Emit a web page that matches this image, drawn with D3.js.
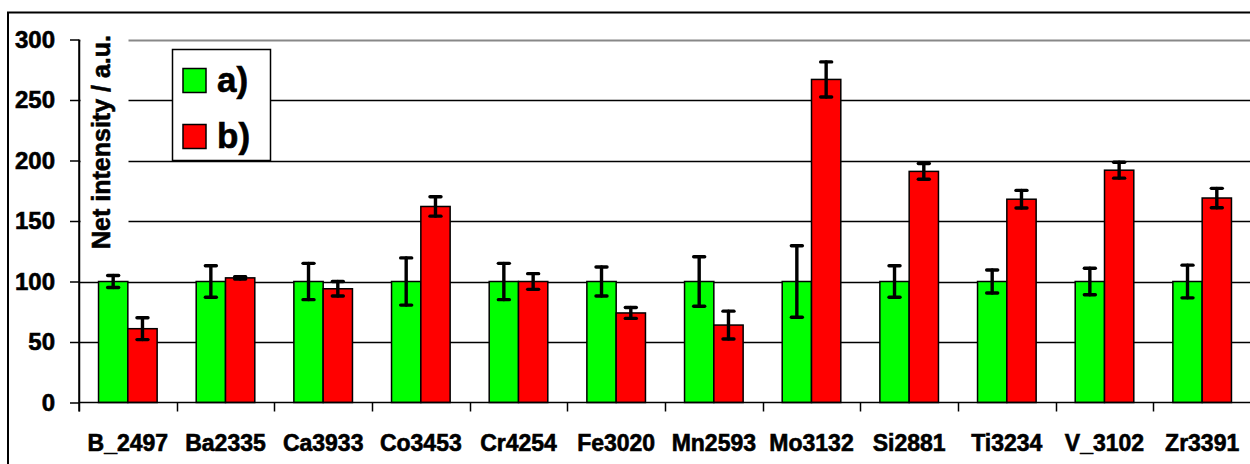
<!DOCTYPE html>
<html>
<head>
<meta charset="utf-8">
<script src="https://cdn.jsdelivr.net/npm/d3@7"></script>
<style>
  html, body { margin: 0; padding: 0; background: #fff; }
  svg { display: block; }
  text { font-family: "Liberation Sans", Arial, sans-serif; font-weight: bold; fill: #000;
         stroke: #000; stroke-width: 0.6px; }
</style>
</head>
<body>
<svg id="chart" width="1250" height="464"></svg>
<script>
// Emission lines measured
const categories = ["B_2497", "Ba2335", "Ca3933", "Co3453", "Cr4254", "Fe3020",
                    "Mn2593", "Mo3132", "Si2881", "Ti3234", "V_3102", "Zr3391"];
// Series a) (reference, normalised to 100) and series b)
const seriesNames = ["a)", "b)"];
const valuesA = [100, 100, 100, 100, 100, 100, 100, 100, 100, 100, 100, 100];
const errorsA = [5, 13, 15, 19.5, 15, 12, 20.5, 29.5, 13, 9.5, 11, 13.5];
const valuesB = [61, 103, 94, 162, 100, 74, 64, 267, 191, 168, 192, 169];
const errorsB = [9, 1, 6, 8, 6.5, 4.5, 11.5, 14.5, 6.5, 7.3, 6.6, 8];
const yTicks = [0, 50, 100, 150, 200, 250, 300];
const colors = ["#00ff00", "#ff0000"];

const svg = d3.select("#chart");

// Outer chart frame (continues past the right and bottom edge)
svg.append("rect")
  .attr("x", 8).attr("y", 12.5)
  .attr("width", 1400).attr("height", 600)
  .attr("fill", "#fff").attr("stroke", "#000").attr("stroke-width", 2);

const plot = { left: 79, right: 1251, top: 39.5, bottom: 402.5 };

const x0 = d3.scaleBand().domain(categories).range([plot.left, plot.right]).paddingInner(0).paddingOuter(0);
const bw = x0.bandwidth();
const x1 = d3.scaleBand().domain(seriesNames).range([bw * 0.2, bw * 0.8]).padding(0);
const y = d3.scaleLinear().domain([0, 300]).range([plot.bottom, plot.top]);

// Horizontal gridlines
svg.append("g").selectAll("line")
  .data(yTicks.filter(t => t > 0))
  .join("line")
  .attr("x1", plot.left).attr("x2", plot.right)
  .attr("y1", d => Math.round(y(d)) + 0.5).attr("y2", d => Math.round(y(d)) + 0.5)
  .attr("stroke", d => d === 300 ? "#888" : "#000")
  .attr("stroke-width", d => d === 300 ? 2 : 1.4);

// Axis-title backdrop hides the gridlines behind it
svg.append("rect")
  .attr("x", plot.left + 1.5).attr("y", 28)
  .attr("width", 48).attr("height", 228)
  .attr("fill", "#fff");

// Bars
const rows = categories.map((c, i) => ({
  cat: c,
  items: [
    { s: seriesNames[0], v: valuesA[i], e: errorsA[i], c: colors[0] },
    { s: seriesNames[1], v: valuesB[i], e: errorsB[i], c: colors[1] }
  ]
}));

const groups = svg.append("g").selectAll("g")
  .data(rows).join("g")
  .attr("transform", d => `translate(${x0(d.cat)},0)`);

groups.selectAll("rect")
  .data(d => d.items).join("rect")
  .attr("x", d => x1(d.s))
  .attr("width", x1.bandwidth())
  .attr("y", d => y(d.v))
  .attr("height", d => y(0) - y(d.v))
  .attr("fill", d => d.c)
  .attr("stroke", "#000").attr("stroke-width", 1.5);

// Error bars
const capHalf = 5.5;
const eb = groups.selectAll("g.err")
  .data(d => d.items).join("g").attr("class", "err")
  .attr("stroke", "#000").attr("stroke-width", 3.4).attr("stroke-linecap", "round");
eb.append("line")
  .attr("x1", d => x1(d.s) + x1.bandwidth() / 2).attr("x2", d => x1(d.s) + x1.bandwidth() / 2)
  .attr("y1", d => y(d.v + d.e)).attr("y2", d => y(d.v - d.e));
eb.append("line")
  .attr("x1", d => x1(d.s) + x1.bandwidth() / 2 - capHalf).attr("x2", d => x1(d.s) + x1.bandwidth() / 2 + capHalf)
  .attr("y1", d => y(d.v + d.e)).attr("y2", d => y(d.v + d.e));
eb.append("line")
  .attr("x1", d => x1(d.s) + x1.bandwidth() / 2 - capHalf).attr("x2", d => x1(d.s) + x1.bandwidth() / 2 + capHalf)
  .attr("y1", d => y(d.v - d.e)).attr("y2", d => y(d.v - d.e));

// Y axis
const yAxis = svg.append("g")
  .attr("transform", `translate(${plot.left},0)`)
  .call(d3.axisLeft(y).tickValues(yTicks).tickSize(9).tickPadding(15).tickSizeOuter(0));
yAxis.select(".domain").attr("stroke", "#000").attr("stroke-width", 1.5);
yAxis.selectAll(".tick line").attr("stroke", "#000").attr("stroke-width", 1.5);
yAxis.selectAll(".tick text")
  .attr("font-size", 24).attr("font-family", "Liberation Sans, Arial, sans-serif")
  .attr("font-weight", "bold").attr("fill", "#000").attr("dy", "0.33em");

// X axis: ticks at category boundaries
svg.append("line")
  .attr("x1", plot.left).attr("x2", plot.right)
  .attr("y1", plot.bottom).attr("y2", plot.bottom)
  .attr("stroke", "#000").attr("stroke-width", 1.5);
svg.append("g").selectAll("line")
  .data(categories).join("line")
  .attr("x1", d => Math.round(x0(d)) + 0.5).attr("x2", d => Math.round(x0(d)) + 0.5)
  .attr("y1", plot.bottom).attr("y2", plot.bottom + 9)
  .attr("stroke", "#000").attr("stroke-width", 1.5);
svg.append("line")
  .attr("x1", plot.left).attr("x2", plot.left)
  .attr("y1", plot.top).attr("y2", plot.bottom + 9)
  .attr("stroke", "#000").attr("stroke-width", 1.5);
svg.append("g").selectAll("text")
  .data(categories).join("text")
  .attr("x", d => x0(d) + bw / 2)
  .attr("y", 451)
  .attr("text-anchor", "middle")
  .attr("font-size", 23)
  .text(d => d);

// Y axis title
svg.append("text")
  .attr("transform", `translate(110,142) rotate(-90)`)
  .attr("text-anchor", "middle")
  .attr("font-size", 25)
  .text("Net intensity / a.u.");

// Legend
const lg = svg.append("g");
lg.append("rect")
  .attr("x", 172.5).attr("y", 49.5).attr("width", 98).attr("height", 111)
  .attr("fill", "#fff").attr("stroke", "#000").attr("stroke-width", 1.5);
const li = lg.selectAll("g.item").data(seriesNames).join("g").attr("class", "item")
  .attr("transform", (d, i) => `translate(0,${i * 56})`);
li.append("rect")
  .attr("x", 183).attr("y", 68.5).attr("width", 23).attr("height", 24)
  .attr("fill", (d, i) => colors[i]).attr("stroke", "#000").attr("stroke-width", 1.5);
li.append("text")
  .attr("x", 217).attr("y", 91.5)
  .attr("font-size", 35)
  .text(d => d);
</script>
</body>
</html>
